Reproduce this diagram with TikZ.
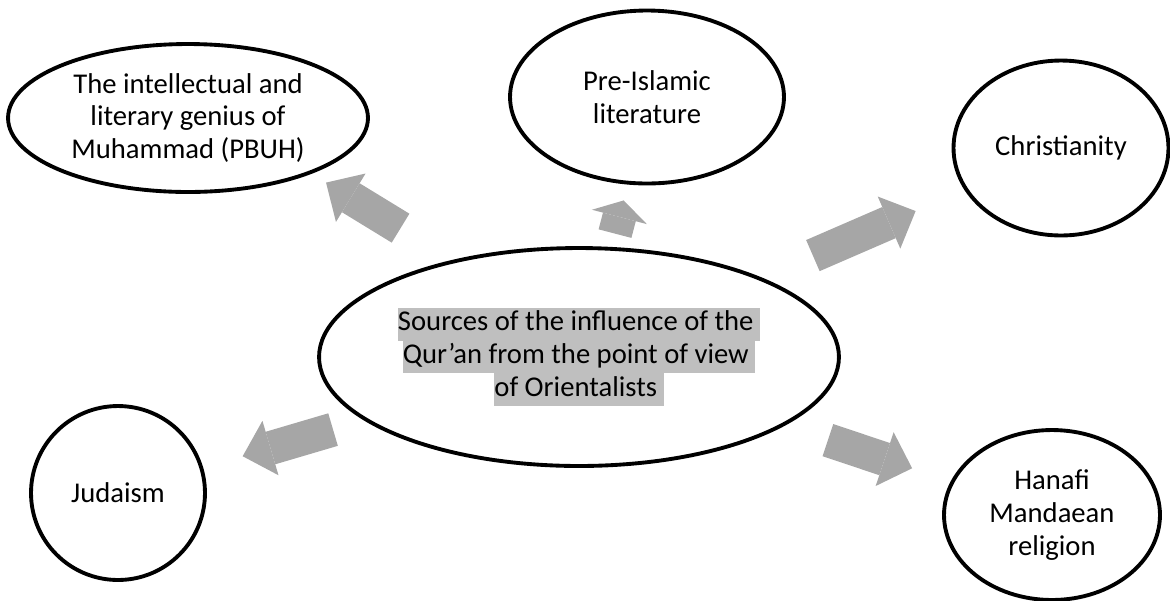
\documentclass[tikz,border=0pt]{standalone}
\usepackage{fontspec}
\setmainfont{Carlito}
\usetikzlibrary{arrows.meta, calc, shapes.geometric}
\definecolor{arrowgrey}{HTML}{A6A6A6}
\definecolor{markgrey}{HTML}{BFBFBF}
\newcommand{\marked}[1]{{\setlength{\fboxsep}{0pt}\colorbox{markgrey}{\strut#1}}}

\begin{document}
\begin{tikzpicture}[x=0.02cm, y=-0.02cm, font=\fontsize{16.3}{18.7}\selectfont,
    source/.style={draw, ellipse, line width=2.2pt, inner sep=0pt, align=center},
    bigarrow/.style={arrowgrey, line width=19.3pt}]
  \useasboundingbox (0,0) rectangle (1170,600);
  \node[source, minimum width=10.4cm, minimum height=4.36cm] (centre) at (579,357)
    {\marked{Sources of the influence of the\ }\\\marked{Qur’an from the point of view\ }\\\marked{of Orientalists\ }};
  \node[source, minimum width=7.2cm, minimum height=2.96cm] (muhammad) at (188,118)
    {The intellectual and\\literary genius of\\Muhammad (PBUH)};
  \node[source, minimum width=5.48cm, minimum height=3.46cm] (preislamic) at (647,97)
    {Pre-Islamic\\literature};
  \node[source, minimum width=4.3cm, minimum height=3.5cm] (christianity) at (1061,148)
    {Christianity};
  \node[source, minimum width=3.48cm, minimum height=3.48cm] (judaism) at (118,493)
    {Judaism};
  \node[source, minimum width=4.32cm, minimum height=3.4cm] (hanafi) at (1052,515)
    {Hanafi\\Mandaean\\religion};
  \foreach \n/\s/\e/\h/\dx/\dy in {muhammad/4.39/3.03/16.5/8.8/-14.4, preislamic/2.57/2.12/9.7/3.5/0.9,
      christianity/5.10/3.17/16.5/0/0, judaism/5.13/2.60/16.5/0/0, hanafi/5.25/2.95/16.5/0/0}
    \draw[bigarrow, shorten <=\s cm, shorten >=\e cm,
      -{Triangle[width=32.3pt, length=\h pt, line width=0pt]}]
      ($(centre.center)+(\dx,\dy)$) -- ($(\n.center)+(\dx,\dy)$);
\end{tikzpicture}
\end{document}
